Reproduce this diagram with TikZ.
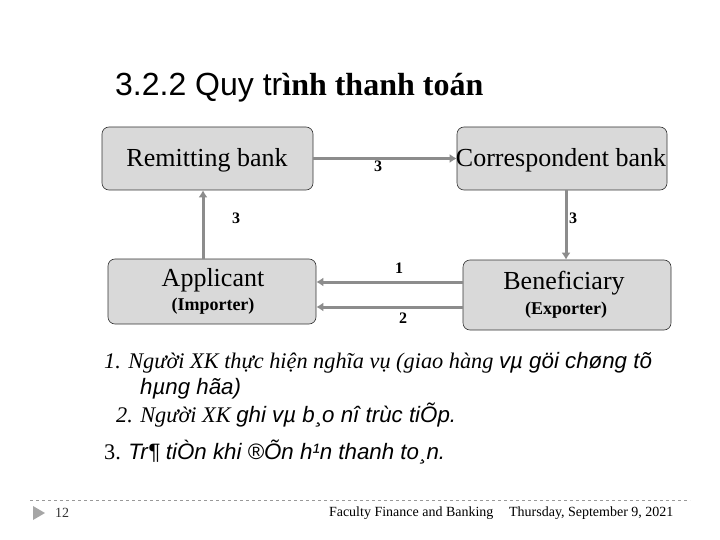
\documentclass[tikz,border=0pt]{standalone}
\usepackage{fontspec}
\usetikzlibrary{arrows.meta}
\setmainfont{Liberation Serif}
\newfontfamily\arial{Liberation Sans}
\begin{document}
\begin{tikzpicture}[x=1pt,y=-1pt,
box/.style={draw=black!80,fill=black!15,rounded corners=7pt,line width=0.6pt},
arr/.style={draw=black!45,line width=3pt,-{Latex[length=7pt,width=9pt]}},
lbl/.style={font=\bfseries\fontsize{16}{16}\selectfont},
big/.style={font=\fontsize{26}{26}\selectfont},
sub/.style={font=\bfseries\fontsize{18}{18}\selectfont},
bt/.style={font=\fontsize{22.3}{22.3}\selectfont,anchor=west,inner sep=0pt}]
\useasboundingbox (0,0) rectangle (720,540);
\node[box,minimum width=211pt,minimum height=63pt] (rb) at (207.5,158.5) {};
\node[big] at (207,160) {Remitting bank};
\node[box,minimum width=210pt,minimum height=63pt] (cb) at (562,158.5) {};
\node[big] at (561,160) {Correspondent bank};
\node[box,minimum width=208pt,minimum height=65pt] (ap) at (212,291.5) {};
\node[big] at (213,280) {Applicant};
\node[sub] at (213,306) {(Importer)};
\node[box,minimum width=208pt,minimum height=70pt] (be) at (567,295) {};
\node[big] at (564,283) {Beneficiary};
\node[sub] at (566,310) {(Exporter)};
\draw[arr] (rb.east) -- (cb.west);
\draw[arr] (ap.north -| 203,0) -- (rb.south -| 203,0);
\draw[arr] (cb.south -| 566,0) -- (be.north -| 566,0);
\draw[arr] (be.west |- 0,282) -- (ap.east |- 0,282);
\draw[arr] (be.west |- 0,307) -- (ap.east |- 0,307);
\node[lbl] at (378,166) {3};
\node[lbl] at (236,218) {3};
\node[lbl] at (573,218) {3};
\node[lbl] at (399,268) {1};
\node[lbl] at (403,318) {2};
\node[anchor=west,inner sep=0pt] at (115,88) {\fontsize{32}{32}\selectfont{\arial 3.2.2 Quy tr}\bfseries ình thanh toán};
\node[bt] at (104,363) {\itshape 1. Người XK thực hiện nghĩa vụ (giao hàng {\arial vµ göi chøng tõ}};
\node[bt] at (140,389) {\arial\itshape hµng hãa)};
\node[bt] at (116,415) {\itshape 2. Người XK {\arial ghi vµ b¸o nî trùc tiÕp.}};
\node[bt] at (104,452) {3. {\arial\itshape Tr¶ tiÒn khi ®Õn h¹n thanh to¸n.}};
\draw[black!40,dashed,line width=0.6pt] (30,500) -- (690,500);
\fill[black!35] (33,506) -- (45,513) -- (33,520) -- cycle;
\node[font=\fontsize{14}{14}\selectfont,text=black!80] at (62,513) {12};
\node[font=\fontsize{14}{14}\selectfont,anchor=east] at (497,513) {Faculty Finance and Banking};
\node[font=\fontsize{14}{14}\selectfont,anchor=east] at (677,513) {Thursday, September 9, 2021};
\end{tikzpicture}
\end{document}
